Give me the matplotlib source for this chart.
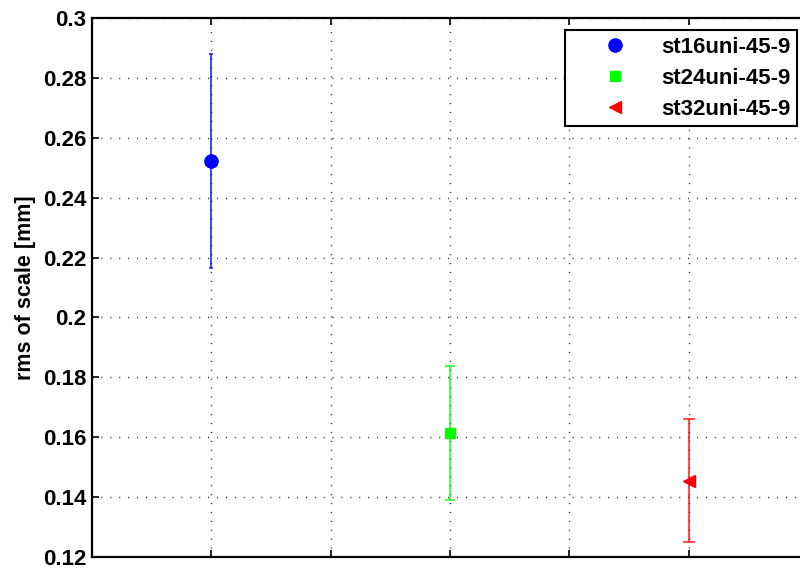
import matplotlib
matplotlib.use('Agg')
import matplotlib.pyplot as plt
from matplotlib.lines import Line2D
from matplotlib.ticker import FormatStrFormatter

# Data
labels = ['st16uni-45-9', 'st24uni-45-9', 'st32uni-45-9']
xpos = [1, 2, 3]
rms_mean = [0.2523, 0.1614, 0.1455]
rms_err = [0.0357, 0.0225, 0.0205]
colors = ['#0000ff', '#00ff00', '#ff0000']
markers = ['o', 's', '<']
msizes = [9.5, 7.5, 8.5]
caps = [1.4, 3.3, 4.0]

plt.rcParams['font.family'] = ['Liberation Sans', 'DejaVu Sans']
plt.rcParams['font.weight'] = 'bold'

fig = plt.figure(figsize=(8, 5.69), dpi=100)
ax = fig.add_axes([92 / 800, 1 - 557 / 569, 716 / 800, 539 / 569])

for i in range(len(labels)):
    ax.errorbar(xpos[i], rms_mean[i], yerr=rms_err[i], fmt='none', ecolor=colors[i],
                elinewidth=1.5, capsize=caps[i], capthick=1.4, alpha=0.7, zorder=3)
    ax.plot(xpos[i], rms_mean[i], linestyle='none', marker=markers[i], color=colors[i],
            markersize=msizes[i], zorder=4)

ax.set_xlim(0.5, 3.5)
ax.set_ylim(0.12, 0.3)
ax.set_xticks([0.5, 1, 1.5, 2, 2.5, 3, 3.5])
ax.set_xticklabels([])
ax.set_yticks([0.12, 0.14, 0.16, 0.18, 0.2, 0.22, 0.24, 0.26, 0.28, 0.3])
ax.yaxis.set_major_formatter(FormatStrFormatter('%g'))
ax.tick_params(direction='in', length=5, width=1.2, top=True, right=True,
               labelsize=16, pad=4)
for lab in ax.get_yticklabels():
    lab.set_fontweight('bold')

for s in ax.spines.values():
    s.set_linewidth(1.6)

ax.grid(True, color='#303030', linestyle=(0, (0.8, 5.6)), linewidth=1.0)
ax.set_axisbelow(True)

ax.set_ylabel('rms of scale [mm]', fontsize=15.5, fontweight='bold', labelpad=5)

handles = [Line2D([], [], linestyle='none', marker=markers[i], color=colors[i],
                  markersize=msizes[i]) for i in range(len(labels))]
leg = ax.legend(handles, labels, loc='upper right', bbox_to_anchor=(797 / 800, 1 - 30 / 569),
                bbox_transform=fig.transFigure, borderaxespad=0, fancybox=False,
                framealpha=1, edgecolor='black', fontsize=16, handletextpad=0.1,
                borderpad=0.3, labelspacing=0.45, handlelength=3.9)
leg.get_frame().set_linewidth(1.5)
for t in leg.get_texts():
    t.set_fontweight('bold')

fig.savefig('out.png', dpi=100)
